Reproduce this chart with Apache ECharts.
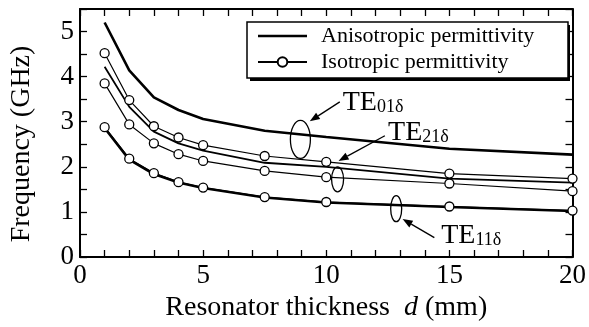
<!DOCTYPE html>
<html>
<head>
<meta charset="utf-8">
<script src="https://cdn.jsdelivr.net/npm/echarts@6/dist/echarts.min.js"></script>
<style>
html,body{margin:0;padding:0;background:#fff;}
#chart{width:589px;height:327px;}
</style>
</head>
<body>
<div id="chart"></div>
<script>
// ---- data ----
const thickness = [1, 2, 3, 4, 5, 7.5, 10, 15, 20];
const anisoTE01 = [5.20, 4.14, 3.54, 3.26, 3.06, 2.80, 2.66, 2.40, 2.27];
const isoTE01   = [4.52, 3.48, 2.90, 2.65, 2.48, 2.24, 2.11, 1.85, 1.74];
const anisoTE21 = [4.22, 3.33, 2.78, 2.52, 2.36, 2.09, 2.00, 1.74, 1.65];
const isoTE21   = [3.85, 2.94, 2.52, 2.28, 2.13, 1.91, 1.77, 1.63, 1.46];
const anisoTE11 = [2.86, 2.16, 1.84, 1.65, 1.53, 1.32, 1.21, 1.11, 1.02];
const isoTE11   = [2.88, 2.18, 1.86, 1.66, 1.54, 1.33, 1.22, 1.12, 1.03];
const xTickLabels = ['0', '5', '10', '15', '20'];
const yTickLabels = ['0', '1', '2', '3', '4', '5'];
const legendNames = ['Anisotropic permittivity', 'Isotropic permittivity'];
const xName = 'Resonator thickness';
const yName = 'Frequency (GHz)';
// annotations (data coordinates)
const modeLabels = [
  {main: 'TE', sub: '01δ', text: [10.67, 3.22], from: [10.55, 3.44], to: [9.33, 3.01], ell: [8.95, 2.607], rx: 10, ry: 19},
  {main: 'TE', sub: '21δ', text: [12.51, 2.55], from: [12.38, 2.69], to: [10.50, 2.13], ell: [10.46, 1.722], rx: 6, ry: 12.5},
  {main: 'TE', sub: '11δ', text: [14.67, 0.26], from: [14.39, 0.43], to: [13.10, 0.84], ell: [12.84, 1.071], rx: 5.5, ry: 13}
];

const FONT = '"Liberation Serif", "Times New Roman", serif';
const toPairs = (ys) => thickness.map((x, i) => [x, ys[i]]);

function anisoSeries(ys, w) {
  return {
    name: legendNames[0], type: 'line', data: toPairs(ys),
    symbol: 'none', showSymbol: false, smooth: false,
    lineStyle: {color: '#000', width: w}, itemStyle: {color: '#000'}, z: 2
  };
}
function isoSeries(ys) {
  return {
    name: legendNames[1], type: 'line', data: toPairs(ys),
    symbol: 'circle', symbolSize: 9, showSymbol: true,
    lineStyle: {color: '#000', width: 1.2},
    itemStyle: {color: '#fff', borderColor: '#000', borderWidth: 1.3}, z: 3
  };
}

const chart = echarts.init(document.getElementById('chart'), null, {renderer: 'canvas'});

const axisCommon = {
  type: 'value',
  axisLine: {show: true, onZero: false, lineStyle: {color: '#000', width: 2}},
  axisTick: {show: true, inside: true, length: 7, lineStyle: {color: '#000', width: 1.3}},
  splitLine: {show: false},
  minorTick: {show: false}
};

const LEG = {left: 247, top: 22, w: 320, h: 56};
const option = {
  animation: false,
  backgroundColor: '#fff',
  grid: {left: 79, right: 15, top: 9, bottom: 70, containLabel: false},
  legend: {
    data: [
      {name: legendNames[0], icon: 'path://M0,0H49V2.6H0Z'},
      {name: legendNames[1]}
    ],
    orient: 'vertical',
    left: LEG.left, top: LEG.top,
    itemWidth: 49, itemHeight: 12, itemGap: 4,
    padding: [3, 10, 5, 10],
    backgroundColor: '#fff',
    borderColor: '#000', borderWidth: 1.5, borderRadius: 0,
    textStyle: {fontFamily: FONT, fontSize: 22, color: '#000', padding: [0, 0, 0, 9], width: 237, lineHeight: 22},
    selectedMode: false, z: 5
  },
  xAxis: [
    Object.assign({}, axisCommon, {
      position: 'bottom', min: 0, max: 20, interval: 1,
      name: '{n|' + xName + '  }{it|d}{n| (mm)}', nameLocation: 'middle', nameGap: 36,
      nameTextStyle: {fontFamily: FONT, fontSize: 28, color: '#000',
        rich: {
          n: {fontFamily: FONT, fontSize: 28, color: '#000'},
          it: {fontFamily: FONT, fontSize: 28, fontStyle: 'italic', color: '#000'}
        }},
      axisLabel: {show: true, margin: 5, fontFamily: FONT, fontSize: 27, color: '#000',
        formatter: (v) => xTickLabels.indexOf(String(v)) >= 0 ? String(v) : ''}
    }),
    Object.assign({}, axisCommon, {position: 'top', min: 0, max: 20, interval: 1, axisLabel: {show: false}})
  ],
  yAxis: [
    Object.assign({}, axisCommon, {
      position: 'left', min: 0, max: 5.5, interval: 0.5,
      name: yName, nameLocation: 'middle', nameGap: 44, nameRotate: 90,
      nameTextStyle: {fontFamily: FONT, fontSize: 28, color: '#000', padding: [0, 22, 0, 0]},
      axisLabel: {show: true, margin: 6, fontFamily: FONT, fontSize: 27, color: '#000',
        formatter: (v) => yTickLabels.indexOf(String(v)) >= 0 ? String(v) : ''}
    }),
    Object.assign({}, axisCommon, {position: 'right', min: 0, max: 5.5, interval: 0.5, axisLabel: {show: false}})
  ],
  series: [
    anisoSeries(anisoTE01, 2.6),
    anisoSeries(anisoTE21, 1.8),
    anisoSeries(anisoTE11, 2.6),
    isoSeries(isoTE01),
    isoSeries(isoTE21),
    isoSeries(isoTE11)
  ]
};
chart.setOption(option);

// annotations
const cv = document.createElement('canvas').getContext('2d');
function textW(t, fs) { cv.font = fs + 'px ' + FONT; return cv.measureText(t).width; }
const P = (d) => chart.convertToPixel({xAxisIndex: 0, yAxisIndex: 0}, d);
const gfx = [];
// legend drop shadow
gfx.push({type: 'rect', z: 1, shape: {x: LEG.left + 3, y: LEG.top + 3, width: LEG.w, height: LEG.h}, style: {fill: '#000'}});
const MAIN = 28, SUB = 18;
modeLabels.forEach((m) => {
  const t = P(m.text);
  gfx.push({type: 'text', z: 10, style: {text: m.main, x: t[0], y: t[1] - 0.34 * MAIN, fontSize: MAIN, fontFamily: FONT, fill: '#000', align: 'left', verticalAlign: 'middle'}});
  const w = textW(m.main, MAIN);
  gfx.push({type: 'text', z: 10, style: {text: m.sub, x: t[0] + w, y: t[1] + 1.6 - 0.34 * SUB, fontSize: SUB, fontFamily: FONT, fill: '#000', align: 'left', verticalAlign: 'middle'}});
  const a = P(m.from), b = P(m.to);
  const dx = b[0] - a[0], dy = b[1] - a[1], L = Math.hypot(dx, dy);
  const ux = dx / L, uy = dy / L, hl = 10, hw = 3.8;
  const base = [b[0] - ux * hl, b[1] - uy * hl];
  gfx.push({type: 'line', z: 10, shape: {x1: a[0], y1: a[1], x2: base[0], y2: base[1]}, style: {stroke: '#000', lineWidth: 1.3}});
  gfx.push({type: 'polygon', z: 10, shape: {points: [b, [base[0] - uy * hw, base[1] + ux * hw], [base[0] + uy * hw, base[1] - ux * hw]]}, style: {fill: '#000'}});
  const e = P(m.ell);
  gfx.push({type: 'ellipse', z: 10, shape: {cx: e[0], cy: e[1], rx: m.rx, ry: m.ry}, style: {fill: 'none', stroke: '#000', lineWidth: 1.3}});
});
chart.setOption({graphic: gfx});
</script>
</body>
</html>
